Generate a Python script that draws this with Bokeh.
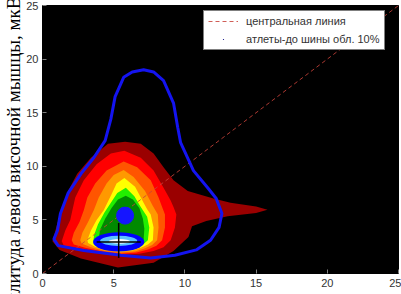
from bokeh.plotting import figure
from bokeh.models import Range1d, Legend, LegendItem, FixedTicker, ColumnDataSource, Title
from bokeh.embed import file_html
from bokeh.resources import INLINE

# ---------------- data ----------------
tick_values = [0, 5, 10, 15, 20, 25]
y_label = "амплитуда левой височной мышцы, мкВ"
legend_labels = ["центральная линия", "атлеты-до шины обл. 10%"]

level_colors = ["#9a0000", "#ff0000", "#ff5500", "#ff9900", "#ffff00", "#22ee00", "#008a00"]

lvl1_x = [5.8, 6.9, 7.8, 8.5, 9.2, 10.2, 12.0, 13.2, 15.0, 15.8, 15.0, 13.0, 11.5, 10.5, 10.25, 9.2, 7.8, 5.3, 2.7, 1.2, 0.7, 1.05, 1.4, 1.8, 2.44, 3.4, 4.6]
lvl1_y = [12.3, 12.1, 11.2, 9.9, 8.7, 7.7, 7.0, 6.6, 6.25, 5.95, 5.65, 5.35, 4.9, 4.4, 3.4, 2.1, 1.0, 0.55, 1.4, 2.2, 3.0, 4.7, 5.9, 7.7, 9.3, 10.8, 12.1]

lvl2_x = [5.75, 6.9, 7.8, 8.5, 9.0, 9.2, 9.4, 9.3, 9.0, 8.5, 7.8, 6.8, 5.5, 4.0, 2.5, 1.5, 1.35, 1.6, 1.95, 2.1, 2.3, 2.9, 3.8, 4.8]
lvl2_y = [11.45, 10.8, 9.6, 8.0, 6.8, 6.2, 5.5, 4.3, 3.1, 2.45, 2.1, 1.85, 1.75, 2.0, 2.35, 2.6, 3.0, 4.0, 5.0, 5.9, 7.1, 8.7, 10.2, 11.2]

lvl3_x = [5.7, 6.65, 7.6, 8.15, 8.4, 8.6, 8.6, 8.4, 8.0, 7.4, 6.6, 5.5, 4.2, 3.0, 2.2, 2.05, 2.2, 2.6, 2.9, 3.15, 3.7, 4.5]
lvl3_y = [10.45, 9.9, 8.7, 7.1, 6.2, 5.5, 4.3, 3.1, 2.6, 2.25, 1.95, 1.85, 2.05, 2.4, 2.7, 3.1, 3.8, 4.8, 5.9, 7.1, 8.4, 9.6]

lvl4_x = [5.7, 6.4, 7.2, 7.75, 8.1, 8.15, 8.05, 7.7, 7.2, 6.5, 5.5, 4.4, 3.4, 2.75, 2.65, 2.8, 3.2, 3.6, 3.95, 4.5, 5.0]
lvl4_y = [9.65, 9.0, 7.7, 6.3, 5.5, 4.3, 3.1, 2.65, 2.35, 2.05, 1.95, 2.1, 2.45, 2.8, 3.1, 3.8, 4.8, 5.9, 7.1, 8.4, 9.2]

lvl5_x = [5.75, 6.5, 7.1, 7.35, 7.6, 7.8, 7.75, 7.4, 6.9, 6.3, 5.5, 4.6, 3.7, 3.2, 3.15, 3.4, 3.8, 4.3, 4.85, 5.2]
lvl5_y = [8.9, 8.1, 6.6, 6.0, 5.5, 4.3, 3.1, 2.7, 2.4, 2.15, 2.05, 2.2, 2.5, 2.85, 3.1, 4.0, 5.0, 5.9, 7.4, 8.4]

lvl6_x = [5.85, 6.45, 6.9, 7.35, 7.5, 7.4, 7.1, 6.6, 6.0, 5.4, 4.7, 4.0, 3.6, 3.58, 3.62, 3.9, 4.35, 4.8, 5.25]
lvl6_y = [8.0, 7.2, 6.2, 5.3, 4.3, 3.1, 2.75, 2.45, 2.22, 2.15, 2.28, 2.55, 2.9, 3.1, 3.6, 4.6, 5.7, 6.6, 7.5]

lvl7_x = [5.85, 6.35, 6.8, 7.05, 7.15, 7.1, 6.8, 6.2, 5.4, 4.6, 4.1, 3.93, 4.05, 4.4, 4.85, 5.3]
lvl7_y = [7.25, 6.9, 6.1, 5.1, 4.2, 3.1, 2.7, 2.35, 2.25, 2.35, 2.65, 3.1, 4.1, 5.1, 6.1, 6.9]

# inner peak (rings around the lower maximum)
core_x = [5.35, 5.35, 5.4]
core_y = [2.95, 3.05, 3.0]
core_w = [3.6, 2.6, 1.5]
core_h = [1.8, 0.95, 0.45]
core_colors = ["#0000ff", "#5cc2ff", "#ffffff"]

# 10 % region boundary (blue outline)
boundary_x = [7.1, 7.8, 8.5, 9.2, 9.5, 9.7, 10.6, 11.6, 12.2, 12.6, 12.4, 11.8, 10.8, 9.3, 7.6, 5.5, 2.9, 1.1, 0.8, 1.05, 1.26, 1.8, 2.7, 3.6, 4.4, 4.8, 5.1, 5.7, 6.3]
boundary_y = [19.0, 18.8, 18.0, 15.9, 13.6, 12.2, 9.6, 8.0, 7.0, 5.6, 4.3, 3.1, 2.2, 1.7, 1.45, 1.7, 2.15, 2.6, 3.2, 4.0, 5.6, 7.5, 9.3, 10.8, 12.4, 14.4, 16.5, 18.3, 18.8]

# athletes' mean point and its spread
mean_x = [5.8]
mean_y = [5.4]
spread_v_x = [5.35, 5.35]
spread_v_y = [1.45, 4.7]
spread_h_x = [3.8, 6.9]
spread_h_y = [2.95, 2.95]

center_x = [0, 25]
center_y = [0, 25]

# ---------------- figure ----------------
p = figure(width=401, height=294, output_backend="svg", toolbar_location=None,
           x_range=Range1d(0, 25), y_range=Range1d(0, 25),
           min_border_left=42, min_border_right=3, min_border_top=5, min_border_bottom=21)
p.background_fill_color = "black"
p.border_fill_color = "white"
p.outline_line_color = "black"
p.grid.visible = False

for ax in (p.xaxis, p.yaxis):
    ax.ticker = FixedTicker(ticks=tick_values)
    ax.major_tick_in = 4
    ax.major_tick_out = 0
    ax.minor_tick_line_color = None
    ax.major_tick_line_color = "#808080"
    ax.axis_line_color = "black"
    ax.major_label_text_font = "Liberation Sans"
    ax.major_label_text_font_size = "11px"
    ax.major_label_text_color = "#333333"
p.xaxis.major_label_standoff = 5
p.yaxis.major_label_standoff = 4

levels = ColumnDataSource(dict(
    xs=[lvl1_x, lvl2_x, lvl3_x, lvl4_x, lvl5_x, lvl6_x, lvl7_x],
    ys=[lvl1_y, lvl2_y, lvl3_y, lvl4_y, lvl5_y, lvl6_y, lvl7_y],
    color=level_colors))
p.patches("xs", "ys", source=levels, fill_color="color", line_color=None)

p.ellipse(x=core_x, y=core_y, width=core_w, height=core_h, fill_color=core_colors, line_color=None)

diag = p.line(center_x, center_y, line_color="#c8423a", line_width=1, line_dash="4 3", line_alpha=0.85)

p.patch(boundary_x, boundary_y, fill_alpha=0, line_color="#1414f0", line_width=3)

dot = p.scatter(mean_x, mean_y, marker="dot", size=8, color="#000080")
p.scatter(mean_x, mean_y, marker="circle", size=17, fill_color="#1515ff", line_color="#1515ff")

p.line(spread_v_x, spread_v_y, line_color="black", line_width=1.5)
p.line(spread_h_x, spread_h_y, line_color="black", line_width=1.5)

legend = Legend(items=[LegendItem(label=legend_labels[0], renderers=[diag]),
                       LegendItem(label=legend_labels[1], renderers=[dot])],
                location=(161, 223), label_text_font="Liberation Sans", label_text_font_size="11px",
                label_text_color="#333333", border_line_color="black", background_fill_color="white",
                background_fill_alpha=1, glyph_width=30, glyph_height=12, spacing=6, padding=4,
                label_standoff=8, margin=0, label_height=12)
p.add_layout(legend)

ylab = Title(text=y_label, align="right", offset=-9, standoff=0,
             text_font="Liberation Serif", text_font_size="19px", text_font_style="normal",
             text_color="black")
p.add_layout(ylab, "left")

open("out.html", "w").write(file_html(p, INLINE))
